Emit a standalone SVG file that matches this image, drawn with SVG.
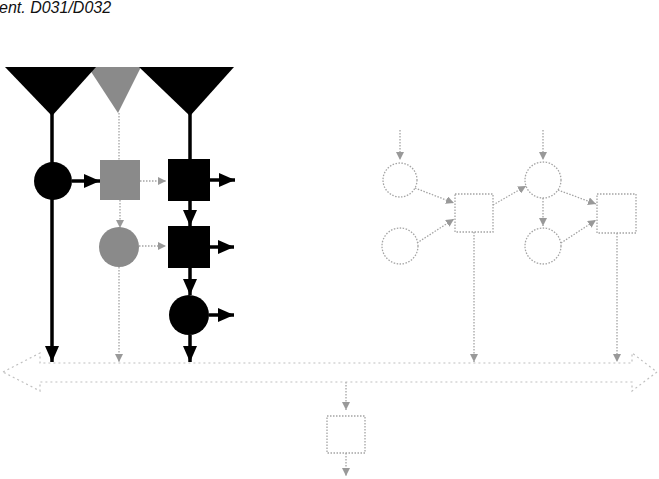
<svg xmlns="http://www.w3.org/2000/svg" width="659" height="479" viewBox="0 0 659 479">
<defs>
<style>
.blk{fill:#000;}
.gry{fill:#8a8a8a;}
.lt{fill:none;stroke:#a4a4a4;stroke-width:1.3;stroke-dasharray:1.5 1.5;}
.bus{fill:none;stroke:#c0c0c0;stroke-width:1.2;stroke-dasharray:2 3;}
.cb{stroke:#000;stroke-width:3.5;fill:none;}
.cg{stroke:#a4a4a4;stroke-width:1.3;stroke-dasharray:1.5 1.5;fill:none;}
.ttl{font-family:"Liberation Sans",Arial,sans-serif;font-style:italic;font-size:16px;fill:#111;}
</style>
<marker id="ab" markerUnits="userSpaceOnUse" markerWidth="16" markerHeight="14" refX="16" refY="7" orient="auto">
<path d="M0,0 L16,7 L0,14 z" fill="#000"/>
</marker>
<marker id="ag" markerUnits="userSpaceOnUse" markerWidth="8" markerHeight="8" refX="8" refY="4" orient="auto">
<path d="M0,0 L8,4 L0,8 z" fill="#999"/>
</marker>
</defs>
<rect width="659" height="479" fill="#fff"/>
<text class="ttl" x="-1" y="13">ent. D031/D032</text>

<g id="connectors">
<line class="cb" x1="52" y1="110" x2="52" y2="362" marker-end="url(#ab)"/>
<line class="cb" x1="72" y1="181" x2="100" y2="181" marker-end="url(#ab)"/>
<line class="cb" x1="210" y1="180" x2="235" y2="180" marker-end="url(#ab)"/>
<line class="cb" x1="190" y1="110" x2="190" y2="160"/>
<line class="cb" x1="190" y1="201" x2="190" y2="226" marker-end="url(#ab)"/>
<line class="cb" x1="210" y1="247" x2="234" y2="247" marker-end="url(#ab)"/>
<line class="cb" x1="190" y1="268" x2="190" y2="295" marker-end="url(#ab)"/>
<line class="cb" x1="209" y1="315" x2="234" y2="315" marker-end="url(#ab)"/>
<line class="cb" x1="190" y1="335" x2="190" y2="362" marker-end="url(#ab)"/>

<line class="cg" x1="119" y1="113" x2="119" y2="160"/>
<line class="cg" x1="140" y1="181" x2="166" y2="181" marker-end="url(#ag)"/>
<line class="cg" x1="120" y1="200" x2="120" y2="228" marker-end="url(#ag)"/>
<line class="cg" x1="139" y1="246" x2="166" y2="246" marker-end="url(#ag)"/>
<line class="cg" x1="119" y1="267" x2="119" y2="362" marker-end="url(#ag)"/>

<line class="cg" x1="400" y1="130" x2="400" y2="160" marker-end="url(#ag)"/>
<line class="cg" x1="415" y1="188" x2="454" y2="203" marker-end="url(#ag)"/>
<line class="cg" x1="417" y1="243" x2="454" y2="219" marker-end="url(#ag)"/>
<line class="cg" x1="493" y1="205" x2="526" y2="186" marker-end="url(#ag)"/>
<line class="cg" x1="543" y1="130" x2="543" y2="160" marker-end="url(#ag)"/>
<line class="cg" x1="543" y1="198" x2="543" y2="226" marker-end="url(#ag)"/>
<line class="cg" x1="558" y1="190" x2="596" y2="204" marker-end="url(#ag)"/>
<line class="cg" x1="561" y1="243" x2="596" y2="220" marker-end="url(#ag)"/>
<line class="cg" x1="474" y1="232" x2="474" y2="362" marker-end="url(#ag)"/>
<line class="cg" x1="617" y1="233" x2="617" y2="362" marker-end="url(#ag)"/>

<line class="cg" x1="346" y1="382" x2="346" y2="410" marker-end="url(#ag)"/>
<line class="cg" x1="346" y1="453" x2="346" y2="476" marker-end="url(#ag)"/>
</g>

<g id="bus">
<path class="bus" d="M3,372 L40,353 L40,363 L632,363 L632,353 L657,372 L632,391 L632,382 L40,382 L40,391 Z"/>
</g>

<g id="src-gray"><polygon class="gry" points="88,67 141,67 118,113"/></g>
<g id="src-left"><polygon class="blk" points="5,67 96,67 52,116"/></g>
<g id="src-right"><polygon class="blk" points="139,67 234,67 190,116"/></g>

<g id="c1"><circle class="blk" cx="53" cy="181" r="19"/></g>
<g id="s1"><rect class="gry" x="100" y="160" width="40" height="40"/></g>
<g id="s2"><rect class="blk" x="168" y="159" width="42" height="42"/></g>
<g id="c2"><circle class="gry" cx="119" cy="247" r="20"/></g>
<g id="s3"><rect class="blk" x="168" y="226" width="42" height="42"/></g>
<g id="c3"><circle class="blk" cx="189" cy="315" r="20"/></g>

<g id="c4"><circle class="lt" cx="400" cy="180" r="17"/></g>
<g id="c5"><circle class="lt" cx="400" cy="246" r="18"/></g>
<g id="s4"><rect class="lt" x="455" y="194" width="38" height="38"/></g>
<g id="c6"><circle class="lt" cx="543" cy="180" r="18"/></g>
<g id="c7"><circle class="lt" cx="543" cy="246" r="18"/></g>
<g id="s5"><rect class="lt" x="597" y="194" width="39" height="39"/></g>
<g id="s6"><rect class="lt" x="327" y="416" width="38" height="37"/></g>
</svg>
